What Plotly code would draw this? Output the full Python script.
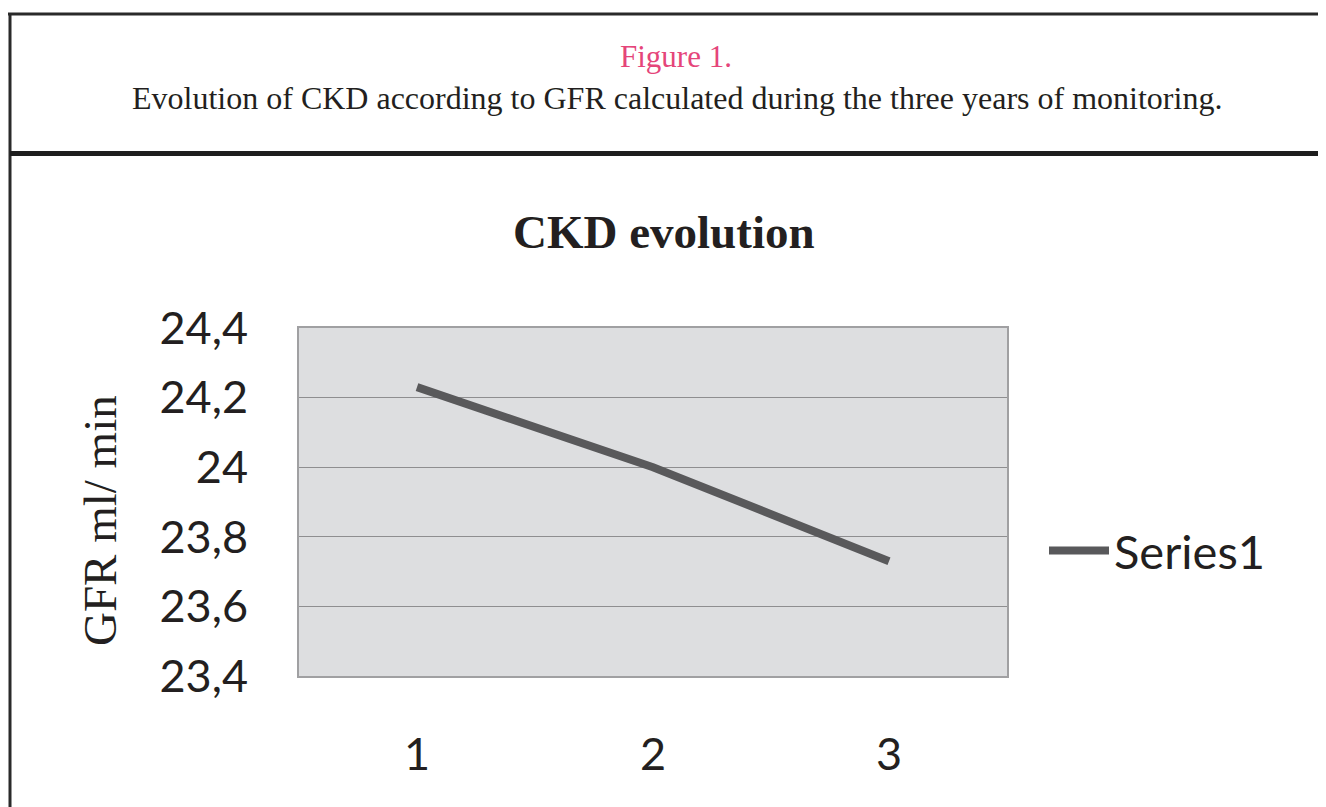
import plotly.graph_objects as go

years = [1, 2, 3]
gfr = [24.23, 24.0, 23.73]
y_ticks = [23.4, 23.6, 23.8, 24.0, 24.2, 24.4]
y_tick_labels = ["23,4", "23,6", "23,8", "24", "24,2", "24,4"]
x_tick_labels = ["1", "2", "3"]
series_name = "Series1"

OFF = 8  # page body margin offset
W, H = 1326 - OFF, 807 - OFF
L, R, T, B = 299 - OFF, 1007 - OFF, 328 - OFF, 676 - OFF  # plot area pixel box in figure coords


def px(x):
    return (x - OFF - L) / (R - L)


def py(y):
    return (B - (y - OFF)) / (B - T)


fig = go.Figure()
fig.add_trace(go.Scatter(
    x=years, y=gfr, mode="lines", name=series_name,
    line=dict(color="#59595b", width=8),
))

serif = "Liberation Serif, Times New Roman, serif"
sans = "Lato, Open Sans, sans-serif"

shapes = [
    dict(type="line", xref="paper", yref="paper", x0=px(8), x1=px(1340), y0=py(14), y1=py(14),
         line=dict(color="#2a2a2a", width=3)),
    dict(type="line", xref="paper", yref="paper", x0=px(10), x1=px(10), y0=py(13), y1=py(820),
         line=dict(color="#2a2a2a", width=3)),
    dict(type="line", xref="paper", yref="paper", x0=px(10), x1=px(1340), y0=py(153.5), y1=py(153.5),
         line=dict(color="#1e1e1e", width=5)),
]

annotations = [
    dict(text="Figure 1.", x=px(676), y=py(56), xref="paper", yref="paper", showarrow=False,
         xanchor="center", yanchor="middle", font=dict(family=serif, size=31, color="#e5457a")),
    dict(text="Evolution of CKD according to GFR calculated during the three years of monitoring.",
         x=px(677), y=py(98), xref="paper", yref="paper", showarrow=False,
         xanchor="center", yanchor="middle", font=dict(family=serif, size=32, color="#231f20")),
    dict(text="<b>CKD evolution</b>", x=px(664), y=py(232), xref="paper", yref="paper", showarrow=False,
         xanchor="center", yanchor="middle", font=dict(family=serif, size=47, color="#231f20")),
    dict(text="GFR ml/ min", x=px(100), y=py(521), xref="paper", yref="paper", showarrow=False,
         textangle=-90, xanchor="center", yanchor="middle",
         font=dict(family=serif, size=47, color="#231f20")),
]

fig.update_layout(
    width=W, height=H,
    margin=dict(l=L, r=W - R, t=T, b=H - B, pad=0),
    paper_bgcolor="white",
    plot_bgcolor="#dddee0",
    showlegend=True,
    legend=dict(x=px(1044), y=py(551), xanchor="left", yanchor="middle",
                font=dict(family=sans, size=47, color="#231f20"),
                bgcolor="rgba(0,0,0,0)", itemwidth=60),
    xaxis=dict(range=[0.5, 3.5], tickvals=years, ticktext=x_tick_labels,
               showgrid=False, zeroline=False, showline=True, mirror=True,
               linecolor="#a0a0a2", linewidth=2, ticks="", ticklabelstandoff=38,
               tickfont=dict(family=sans, size=45, color="#231f20")),
    yaxis=dict(range=[23.4, 24.4], tickvals=y_ticks, ticktext=y_tick_labels,
               showgrid=True, gridcolor="#8e8e90", gridwidth=1, zeroline=False,
               showline=True, mirror=True, linecolor="#a0a0a2", linewidth=2, ticks="",
               ticklabelstandoff=40,
               tickfont=dict(family=sans, size=45, color="#231f20")),
    shapes=shapes,
    annotations=annotations,
)

fig.write_html("out.html")
